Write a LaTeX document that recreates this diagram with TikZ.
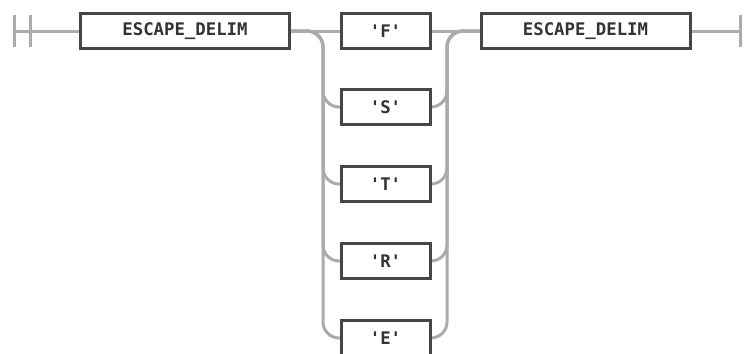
\documentclass[tikz,border=0pt]{standalone}
\usepackage{fontspec}
\setmonofont{DejaVu Sans Mono}
\definecolor{railc}{HTML}{ABABAB}
\definecolor{boxc}{HTML}{464646}
\definecolor{txtc}{HTML}{333333}
\begin{document}
\begin{tikzpicture}[x=0.75pt,y=-0.75pt,
  rail/.style={draw=railc,line width=2.25pt,rounded corners=12pt},
  bar/.style={draw=railc,line width=2.25pt},
  term/.style={draw=boxc,fill=white,line width=2.25pt,inner sep=0pt,outer sep=0pt,
    minimum height=26.25pt,text=txtc,font=\ttfamily\bfseries\fontsize{13}{15}\selectfont},
  wide/.style={term,minimum width=156.75pt},
  narrow/.style={term,minimum width=66.75pt}]
\useasboundingbox (0,0) rectangle (751,354);
\coordinate (s1) at (14,31);
\coordinate (s1t) at (14,15); \coordinate (s1b) at (14,47);
\coordinate (s2t) at (30,15); \coordinate (s2b) at (30,47);
\coordinate (e) at (740,31);
\coordinate (et) at (740,15); \coordinate (eb) at (740,47);
\coordinate (L) at (323,31);
\coordinate (R) at (447,31);
% terminals (placed first so the rails can refer to them)
\node[wide] (d1) at (185,31) {ESCAPE\_DELIM};
\node[wide] (d2) at (585.5,31) {ESCAPE\_DELIM};
\node[narrow] (F) at (385.5,31) {'F'};
\node[narrow] (S) at (385.5,107) {'S'};
\node[narrow] (T) at (385.5,184) {'T'};
\node[narrow] (Rr) at (385.5,261) {'R'};
\node[narrow] (E) at (385.5,338) {'E'};
% rails
\path[bar] (s1t) -- (s1b);
\path[bar] (s2t) -- (s2b);
\path[bar] (s1) -- (d1.west);
\path[bar] (d2.east) -- (e);
\path[bar] (et) -- (eb);
\path[bar] (d1.east) -- (F.west);
\path[bar] (F.east) -- (d2.west);
\foreach \n in {S,T,Rr,E}{
  \path[rail] (d1.east) -- (L) |- (\n.west);
  \path[rail] (\n.east) -| (R) -- (d2.west);
}
% redraw boxes on top of the rails
\node[wide] at (d1) {ESCAPE\_DELIM};
\node[wide] at (d2) {ESCAPE\_DELIM};
\node[narrow] at (F) {'F'};
\node[narrow] at (S) {'S'};
\node[narrow] at (T) {'T'};
\node[narrow] at (Rr) {'R'};
\node[narrow] at (E) {'E'};
\end{tikzpicture}
\end{document}
